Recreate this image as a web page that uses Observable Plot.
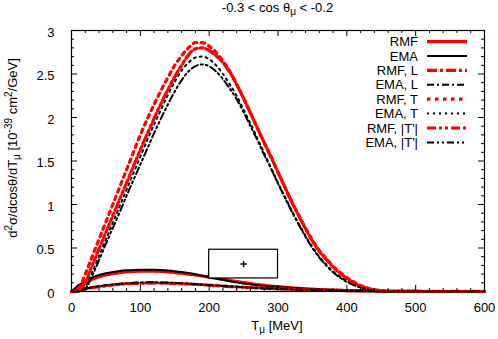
<!DOCTYPE html>
<html><head><meta charset="utf-8">
<script src="https://cdn.jsdelivr.net/npm/d3@7"></script>
<script src="https://cdn.jsdelivr.net/npm/@observablehq/plot@0.6"></script>
<style>
body{margin:0;background:#fff;font-family:"Liberation Sans",Arial,sans-serif;}
#wrap{position:relative;width:498px;height:339px;overflow:hidden;background:#fff}
#title{position:absolute;left:71px;width:413px;top:0;text-align:center;font-size:13px;line-height:16px;color:#000}
#title sub{font-size:10px;vertical-align:-3px;line-height:0}
svg{overflow:visible}
</style></head><body><div id="wrap"><div id="title">-0.3 &lt; cos θ<sub>μ</sub> &lt; -0.2</div></div>
<script>
// T_mu grid [MeV]
const T = [0,10,20,30,40,50,60,70,80,90,100,110,120,130,140,150,160,170,180,190,200,210,220,230,240,250,260,270,280,290,300,310,320,330,340,350,360,370,380,390,400,410,420,430,440,450,460,470,480,490,500,510,520,530,540,550,560,570,580,590,600];

const rmfTotal = [0,0.05,0.1,0.14,0.17,0.19,0.205,0.217,0.225,0.23,0.233,0.234,0.233,0.23,0.225,0.218,0.21,0.2,0.19,0.178,0.165,0.152,0.14,0.127,0.115,0.102,0.09,0.08,0.07,0.062,0.055,0.048,0.042,0.036,0.031,0.027,0.023,0.019,0.016,0.013,0.011,0.009,0.007,0.006,0.005,0.004,0.003,0.002,0.0015,0.001,0.0005,0,0,0,0,0,0,0,0,0,0];
const emaTotal = [0,0.07,0.12,0.16,0.19,0.21,0.225,0.236,0.243,0.248,0.25,0.251,0.25,0.247,0.242,0.234,0.224,0.212,0.198,0.182,0.166,0.15,0.134,0.119,0.105,0.093,0.082,0.072,0.064,0.057,0.05,0.045,0.04,0.036,0.032,0.028,0.025,0.021,0.018,0.015,0.013,0.011,0.009,0.007,0.006,0.005,0.004,0.003,0.002,0.0015,0.001,0.0005,0,0,0,0,0,0,0,0,0];
const rmfL = [0,0.015,0.03,0.044,0.056,0.066,0.075,0.082,0.088,0.092,0.095,0.097,0.098,0.097,0.095,0.093,0.09,0.086,0.082,0.077,0.072,0.067,0.062,0.057,0.053,0.049,0.045,0.041,0.037,0.034,0.031,0.028,0.025,0.023,0.021,0.019,0.017,0.015,0.014,0.012,0.011,0.01,0.009,0.008,0.007,0.006,0.0055,0.005,0.0045,0.004,0.0035,0.003,0.003,0.0025,0.0025,0.002,0.002,0.0015,0.0015,0.001,0.001];
const emaL = [0,0.018,0.034,0.048,0.061,0.072,0.081,0.089,0.095,0.1,0.103,0.105,0.105,0.104,0.102,0.099,0.095,0.09,0.085,0.08,0.075,0.069,0.064,0.059,0.054,0.049,0.045,0.041,0.037,0.034,0.031,0.028,0.025,0.023,0.021,0.019,0.017,0.015,0.014,0.012,0.011,0.01,0.009,0.008,0.007,0.006,0.005,0.0045,0.004,0.0035,0.003,0.0025,0.002,0.002,0.0015,0.0015,0.001,0.001,0.0008,0.0005,0.0003];
const rmfT = [0,0.03,0.2,0.4,0.6,0.8,1.0,1.2,1.4,1.6,1.8,1.98,2.15,2.31,2.46,2.6,2.71,2.8,2.86,2.86,2.82,2.75,2.65,2.53,2.38,2.22,2.05,1.88,1.71,1.55,1.37,1.2,1.03,0.88,0.73,0.59,0.47,0.38,0.29,0.22,0.16,0.11,0.07,0.04,0.02,0.01,0,0,0,0,0,0,0,0,0,0,0,0,0,0,0];
const emaT = [0,0,0.05,0.22,0.41,0.6,0.79,0.98,1.17,1.36,1.55,1.74,1.92,2.09,2.26,2.41,2.54,2.63,2.69,2.7,2.67,2.6,2.5,2.38,2.25,2.09,1.93,1.76,1.59,1.42,1.25,1.09,0.93,0.78,0.64,0.51,0.4,0.31,0.23,0.17,0.12,0.08,0.05,0.025,0.01,0,0,0,0,0,0,0,0,0,0,0,0,0,0,0,0];
const rmfTp = [0,0.01,0.1,0.3,0.49,0.68,0.87,1.06,1.25,1.44,1.63,1.81,1.99,2.16,2.32,2.47,2.6,2.72,2.79,2.8,2.77,2.71,2.63,2.52,2.38,2.22,2.05,1.88,1.71,1.54,1.37,1.2,1.03,0.87,0.72,0.58,0.46,0.37,0.28,0.21,0.15,0.1,0.065,0.035,0.018,0.008,0,0,0,0,0,0,0,0,0,0,0,0,0,0,0];
const emaTp = [0,0,0.03,0.18,0.36,0.55,0.73,0.91,1.1,1.28,1.46,1.64,1.82,1.99,2.15,2.3,2.43,2.53,2.59,2.61,2.59,2.53,2.44,2.33,2.21,2.06,1.9,1.74,1.57,1.41,1.24,1.08,0.92,0.77,0.63,0.5,0.39,0.3,0.22,0.16,0.11,0.075,0.045,0.022,0.01,0,0,0,0,0,0,0,0,0,0,0,0,0,0,0,0];

const seriesNames = ["RMF","EMA","RMF, L","EMA, L","RMF, T","EMA, T","RMF, |T'|","EMA, |T'|"];
const seriesValues = [rmfTotal, emaTotal, rmfL, emaL, rmfT, emaT, rmfTp, emaTp];
const seriesColors = ["#ff0000","#000000","#ff0000","#000000","#ff0000","#000000","#ff0000","#000000"];
const seriesWidths = [3.2,2,3.2,2,3.2,2,3.2,2];
const seriesDash = [null,null,"10,3,3,3","7,3,2,3","3.5,4.5","2,4","9,3,3,3,3,3","7,3,2,3,2,3"];

// box with a cross (from the reference)
const boxX = [200,300], boxY = [0.15,0.48], crossPt = [250,0.315];

const xMajor = [0,100,200,300,400,500,600];
const xMinor = [20,40,60,80,120,140,160,180,220,240,260,280,320,340,360,380,420,440,460,480,520,540,560,580];
const yMajor = [0,0.5,1,1.5,2,2.5,3];
const yMinor = [0.1,0.2,0.3,0.4,0.6,0.7,0.8,0.9,1.1,1.2,1.3,1.4,1.6,1.7,1.8,1.9,2.1,2.2,2.3,2.4,2.6,2.7,2.8,2.9];

const W = 498, H = 339, mL = 71, mR = 14, mT = 30, mB = 48;
const fw = W - mL - mR, fh = H - mT - mB;

const lineMarks = seriesValues.map((vals, i) => {
  const rows = T.map((t, j) => ({T: t, v: vals[j]}));
  return Plot.line(rows, {x: "T", y: "v", stroke: seriesColors[i], strokeWidth: seriesWidths[i],
    strokeDasharray: seriesDash[i], curve: "monotone-x", strokeLinejoin: "round"});
});

const chart = Plot.plot({
  width: W, height: H, marginLeft: mL, marginRight: mR, marginTop: mT, marginBottom: mB,
  style: {fontFamily: '"Liberation Sans", Arial, sans-serif', fontSize: "13px", color: "#000", background: "transparent"},
  x: {domain: [0,600]},
  y: {domain: [0,3]},
  marks: [
    ...lineMarks,
    Plot.rect([{x1: boxX[0], x2: boxX[1], y1: boxY[0], y2: boxY[1]}], {x1: "x1", x2: "x2", y1: "y1", y2: "y2", fill: "white", stroke: "black", strokeWidth: 1.2}),
    Plot.dot([crossPt], {x: d => d[0], y: d => d[1], symbol: "plus", r: 2.2, stroke: "black", strokeWidth: 1.5}),
    Plot.tickX(xMajor, {x: d => d, insetTop: fh - 6, stroke: "black"}),
    Plot.tickX(xMajor, {x: d => d, insetBottom: fh - 6, stroke: "black"}),
    Plot.tickX(xMinor, {x: d => d, insetTop: fh - 3, stroke: "black"}),
    Plot.tickX(xMinor, {x: d => d, insetBottom: fh - 3, stroke: "black"}),
    Plot.tickY(yMajor, {y: d => d, insetRight: fw - 6, stroke: "black"}),
    Plot.tickY(yMajor, {y: d => d, insetLeft: fw - 6, stroke: "black"}),
    Plot.tickY(yMinor, {y: d => d, insetRight: fw - 3, stroke: "black"}),
    Plot.tickY(yMinor, {y: d => d, insetLeft: fw - 3, stroke: "black"}),
    Plot.axisX(xMajor, {tickSize: 0, tickPadding: 11, label: null, fontSize: 13, tickFormat: d => String(d)}),
    Plot.axisY(yMajor, {tickSize: 0, tickPadding: 17, label: null, fontSize: 13, dy: 2, tickFormat: d => String(d)}),
    Plot.frame({stroke: "black", strokeWidth: 1.2})
  ]
});
document.getElementById("wrap").appendChild(chart);
chart.style.position = "absolute"; chart.style.left = "0"; chart.style.top = "0";

const svg = d3.select(chart);
function richText(g, parts) {
  let shift = 0;
  parts.forEach(([t, k]) => {
    const target = k === "sup" ? -5 : k === "sub" ? 3 : 0;
    g.append("tspan").attr("dy", target - shift).attr("font-size", k === "n" ? null : "10px").text(t);
    shift = target;
  });
}
const xl = svg.append("text").attr("x", 277).attr("y", 330).attr("text-anchor", "middle")
  .attr("font-size", 13).attr("fill", "black");
richText(xl, [["T","n"],["μ","sub"],[" [MeV]","n"]]);
const yl = svg.append("text").attr("transform", "translate(17,148) rotate(-90)").attr("text-anchor", "middle")
  .attr("font-size", 13).attr("fill", "black");
richText(yl, [["d","n"],["2","sup"],["σ/dcosθ/dT","n"],["μ","sub"],[" [10","n"],["-39","sup"],[" cm","n"],["2","sup"],["/GeV]","n"]]);

// legend
const leg = svg.append("g");
seriesNames.forEach((name, i) => {
  const y = 41.6 + i * 14.4;
  leg.append("text").attr("x", 418).attr("y", y + 4.6).attr("text-anchor", "end").attr("font-size", 13).attr("fill", "black").text(name);
  leg.append("line").attr("x1", 427).attr("x2", 467).attr("y1", y).attr("y2", y)
    .attr("stroke", seriesColors[i]).attr("stroke-width", seriesWidths[i])
    .attr("stroke-dasharray", seriesDash[i]);
});
</script></body></html>
